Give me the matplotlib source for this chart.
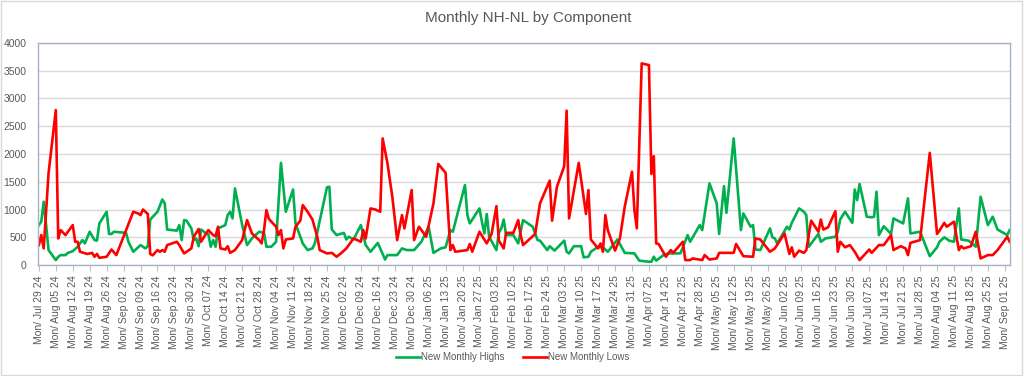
import numpy as np
import pandas as pd
import matplotlib
matplotlib.use("Agg")
import matplotlib.pyplot as plt
import matplotlib.dates as mdates
from matplotlib.patches import Rectangle

plt.rcParams['font.family'] = ['Liberation Sans', 'DejaVu Sans']

start = pd.Timestamp('2024-07-29')

# days after start, value
highs_days = [0, 1, 2, 3, 4, 7, 8, 9, 11, 12, 14, 16, 18, 19, 21, 23, 24, 25, 28, 29,
              30, 31, 36, 37, 39, 42, 44, 45, 46, 49, 51, 52, 53, 57, 58, 59, 60, 61, 63, 64,
              65, 66, 67, 69, 70, 71, 72, 73, 74, 77, 78, 79, 80, 81, 84, 86, 88, 91, 93, 94,
              96, 98, 100, 102, 105, 106, 109, 111, 113, 114, 119, 120, 121, 123, 126, 127, 128, 130, 133, 135,
              137, 140, 141, 143, 144, 148, 150, 152, 155, 158, 161, 163, 166, 168, 170, 171, 176, 177, 178, 182,
              183, 184, 185, 186, 189, 190, 191, 192, 193, 196, 198, 200, 204, 206, 207, 210, 211, 213, 217, 218,
              219, 221, 224, 225, 227, 228, 231, 233, 235, 239, 242, 246, 248, 252, 253, 254, 255, 258, 260, 265,
              268, 269, 273, 274, 277, 280, 281, 283, 284, 287, 290, 291, 294, 295, 296, 298, 302, 303, 304, 305,
              309, 310, 311, 314, 316, 317, 318, 322, 323, 325, 329, 330, 331, 333, 336, 337, 338, 339, 342, 344,
              345, 346, 347, 349, 352, 353, 357, 359, 360, 364, 368, 371, 372, 374, 376, 378, 380, 381, 384, 387,
              389, 392, 394, 396, 400, 401]
highs = [720, 780, 1140, 720, 270, 90, 150, 180, 180, 220, 250, 330, 450, 390, 600, 450, 440, 750, 960, 560,
         560, 600, 580, 420, 240, 360, 300, 340, 820, 960, 1180, 1110, 640, 620, 720, 450, 810, 800, 660, 450,
         480, 340, 640, 570, 560, 330, 450, 330, 660, 720, 900, 960, 840, 1380, 720, 360, 480, 600, 580, 330,
         330, 420, 1840, 960, 1360, 750, 390, 270, 300, 390, 1400, 1410, 640, 540, 580, 460, 510, 460, 720, 360,
         240, 400, 300, 100, 180, 180, 300, 270, 270, 420, 690, 220, 300, 320, 630, 600, 1440, 900, 750, 1020,
         780, 570, 920, 510, 270, 580, 660, 820, 540, 540, 390, 810, 690, 450, 440, 270, 340, 260, 440, 240,
         210, 340, 340, 140, 150, 240, 330, 320, 240, 460, 220, 210, 80, 60, 60, 150, 80, 180, 210, 210,
         540, 420, 720, 630, 1470, 1110, 560, 1420, 940, 2280, 630, 930, 690, 720, 280, 270, 660, 500, 480, 390,
         690, 640, 760, 1020, 960, 900, 330, 560, 420, 480, 510, 600, 820, 960, 760, 1360, 1170, 1460, 870, 860,
         870, 1320, 540, 700, 560, 840, 750, 1200, 570, 600, 160, 320, 420, 500, 440, 420, 1020, 460, 440, 330,
         1230, 720, 870, 640, 540, 630]

lows_days = [0, 1, 2, 4, 7, 8, 9, 11, 14, 15, 16, 17, 20, 22, 23, 24, 25, 28, 30, 32,
             39, 41, 42, 43, 45, 46, 47, 49, 50, 51, 52, 53, 57, 58, 60, 63, 64, 66, 67, 70,
             72, 73, 74, 75, 77, 78, 79, 81, 84, 86, 88, 91, 92, 93, 94, 95, 98, 99, 100, 101,
             102, 105, 106, 108, 109, 111, 113, 115, 116, 119, 121, 123, 125, 127, 130, 132, 133, 134, 135, 137,
             139, 141, 142, 144, 146, 148, 150, 151, 154, 155, 157, 160, 163, 165, 168, 170, 171, 172, 177, 178,
             179, 182, 185, 187, 189, 190, 192, 193, 196, 198, 199, 200, 205, 207, 211, 212, 214, 217, 218, 219,
             223, 226, 227, 228, 231, 232, 233, 234, 235, 238, 240, 242, 245, 246, 247, 249, 252, 253, 254, 255,
             256, 259, 261, 262, 266, 267, 269, 270, 274, 275, 277, 280, 281, 287, 288, 291, 295, 296, 298, 302,
             304, 308, 310, 311, 312, 314, 316, 317, 319, 322, 323, 324, 326, 329, 330, 331, 333, 335, 337, 339,
             343, 344, 347, 349, 352, 353, 356, 358, 359, 360, 364, 368, 371, 372, 374, 375, 378, 380, 381, 382,
             385, 387, 389, 392, 394, 396, 400, 401]
lows = [360, 540, 300, 1650, 2790, 480, 630, 540, 720, 420, 420, 240, 200, 220, 150, 200, 130, 150, 280, 180,
        960, 930, 900, 1000, 920, 200, 175, 270, 240, 270, 240, 360, 420, 360, 210, 300, 510, 650, 420, 630,
        540, 520, 690, 300, 280, 340, 220, 270, 450, 810, 570, 450, 390, 630, 990, 830, 690, 540, 630, 300,
        460, 480, 690, 800, 1080, 960, 820, 510, 270, 210, 220, 150, 220, 300, 480, 440, 420, 630, 480, 1020,
        1000, 960, 2280, 1830, 1230, 450, 900, 660, 1350, 450, 690, 510, 1110, 1820, 1660, 270, 360, 240, 270, 380,
        240, 600, 390, 560, 1060, 440, 300, 580, 580, 810, 540, 360, 560, 1110, 1520, 800, 1410, 1780, 2780, 840,
        1840, 920, 1350, 460, 300, 390, 240, 900, 630, 260, 480, 1050, 1680, 990, 660, 3630, 3600, 1640, 1960, 390,
        380, 150, 270, 220, 420, 90, 90, 120, 90, 180, 100, 120, 220, 220, 380, 160, 150, 480, 460, 240,
        300, 570, 200, 320, 150, 260, 220, 270, 800, 600, 820, 640, 680, 970, 240, 420, 320, 360, 240, 90,
        280, 220, 360, 360, 540, 270, 340, 300, 180, 400, 450, 2020, 560, 620, 760, 690, 780, 270, 340, 300,
        340, 600, 120, 180, 180, 270, 510, 420]

highs_dates = start + pd.to_timedelta(highs_days, unit='D')
lows_dates = start + pd.to_timedelta(lows_days, unit='D')

fig = plt.figure(figsize=(10.24, 3.76), dpi=100)
ax = fig.add_axes([0.037, 0.295, 0.949, 0.591])

ax.plot(highs_dates, highs, color='#00b050', lw=1.9, label='New Monthly Highs', solid_joinstyle='round')
ax.plot(lows_dates, lows, color='#ff0000', lw=1.9, label='New Monthly Lows', solid_joinstyle='round')

ax.set_ylim(0, 4000)
ax.set_yticks(np.arange(0, 4001, 500))
ax.set_xlim(start - pd.Timedelta(days=0.4), start + pd.Timedelta(days=401))
ax.xaxis.set_major_locator(mdates.WeekdayLocator(byweekday=mdates.MO, interval=1))
ax.xaxis.set_major_formatter(mdates.DateFormatter('%a/ %b %d %y'))
ax.tick_params(axis='x', rotation=90, labelsize=7.5, colors='#595959', length=4, width=0.8)
ax.tick_params(axis='y', labelsize=7.5, colors='#595959', length=0, pad=8)
ax.tick_params(axis='x', color='#bfbfbf')

ax.grid(axis='y', color='#d9d9d9', lw=1)
ax.set_axisbelow(True)
for s in ax.spines.values():
    s.set_color('#a6b3c6')
    s.set_linewidth(1)

fig.text(0.516, 0.952, 'Monthly NH-NL by Component', ha='center', va='center',
         fontsize=11, color='#595959')

fig.legend(loc='center', bbox_to_anchor=(0.5005, 0.05), ncol=2, frameon=False,
           fontsize=7, labelcolor='#595959', handlelength=2.5, columnspacing=1.9,
           handletextpad=0.1)

fig.patches.append(Rectangle((0.001, 0.003), 0.997, 0.994, transform=fig.transFigure,
                             fill=False, edgecolor='#d9d9d9', lw=1))

fig.savefig('out.png', dpi=100)
